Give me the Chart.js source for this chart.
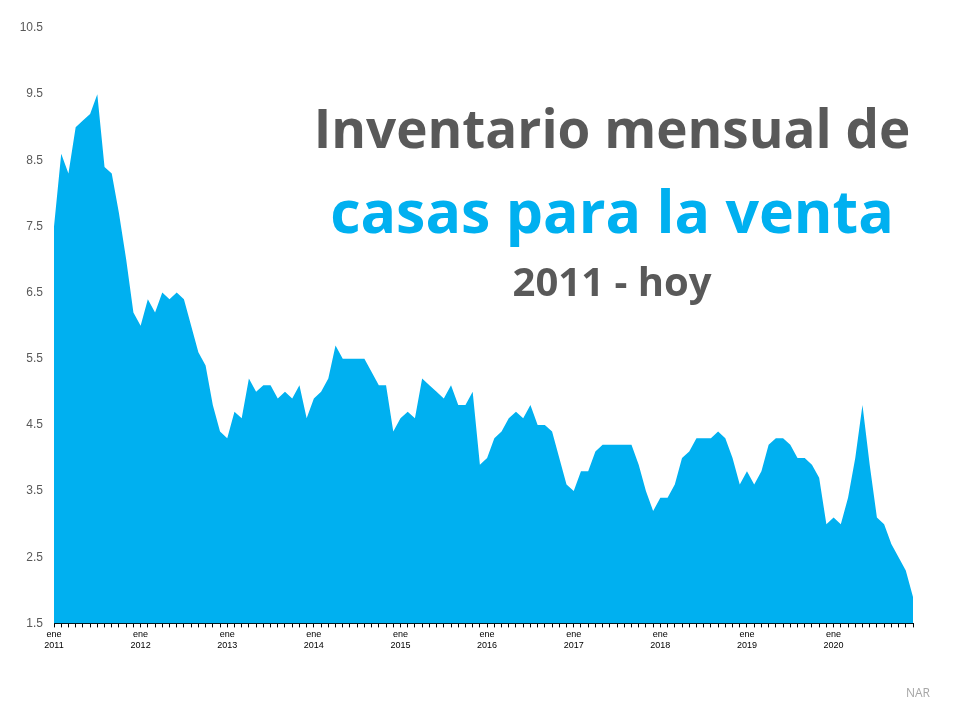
<!DOCTYPE html>
<html><head><meta charset="utf-8">
<script src="https://cdn.jsdelivr.net/npm/chart.js@4"></script>
<style>
body{margin:0;width:960px;height:720px;background:#fff;position:relative;overflow:hidden;font-family:"Open Sans","Noto Sans",sans-serif}
#wrap{position:absolute;left:0;top:0;width:960px;height:720px}
.t{position:absolute;left:312px;width:600px;text-align:center;font-weight:bold;white-space:nowrap}
</style></head><body>
<div id="wrap"><canvas id="c" width="960" height="720"></canvas></div>
<div class="t" style="top:91px;font-size:53px;color:#595959">Inventario mensual de</div>
<div class="t" style="top:170px;font-size:59px;color:#00B0F0">casas para la venta</div>
<div class="t" style="top:253px;font-size:40px;color:#595959">2011 - hoy</div>
<div style="position:absolute;left:906px;top:684px;font-size:12px;color:#a6a6a6;font-family:'Open Sans',sans-serif">NAR</div>
<script>
const years=[2011,2012,2013,2014,2015,2016,2017,2018,2019,2020];
const months=["ene","feb","mar","abr","may","jun","jul","ago","sep","oct","nov","dic"];
const yTicks=[1.5,2.5,3.5,4.5,5.5,6.5,7.5,8.5,9.5,10.5];
const v2011=[7.5,8.6,8.3,9.0,9.1,9.2,9.5,8.4,8.3,7.7,7.0,6.2];
const v2012=[6.0,6.4,6.2,6.5,6.4,6.5,6.4,6.0,5.6,5.4,4.8,4.4];
const v2013=[4.3,4.7,4.6,5.2,5.0,5.1,5.1,4.9,5.0,4.9,5.1,4.6];
const v2014=[4.9,5.0,5.2,5.7,5.5,5.5,5.5,5.5,5.3,5.1,5.1,4.4];
const v2015=[4.6,4.7,4.6,5.2,5.1,5.0,4.9,5.1,4.8,4.8,5.0,3.9];
const v2016=[4.0,4.3,4.4,4.6,4.7,4.6,4.8,4.5,4.5,4.4,4.0,3.6];
const v2017=[3.5,3.8,3.8,4.1,4.2,4.2,4.2,4.2,4.2,3.9,3.5,3.2];
const v2018=[3.4,3.4,3.6,4.0,4.1,4.3,4.3,4.3,4.4,4.3,4.0,3.6];
const v2019=[3.8,3.6,3.8,4.2,4.3,4.3,4.2,4.0,4.0,3.9,3.7,3.0];
const v2020=[3.1,3.0,3.4,4.0,4.8,3.9,3.1,3.0,2.7,2.5,2.3,1.9];
const values=[].concat(v2011,v2012,v2013,v2014,v2015,v2016,v2017,v2018,v2019,v2020);
const labels=[];years.forEach(y=>months.forEach(m=>labels.push(m+" "+y)));
new Chart(document.getElementById('c'),{
 type:'line',
 data:{labels,datasets:[{data:values,fill:'start',backgroundColor:'#00B0F0',borderWidth:0,pointRadius:0,tension:0}]},
 options:{responsive:false,animation:false,devicePixelRatio:1,
  layout:{padding:{left:6,right:47,top:28,bottom:67}},
  plugins:{legend:{display:false},tooltip:{enabled:false}},
  scales:{
   x:{offset:false,grid:{display:true,drawOnChartArea:false,drawTicks:true,tickLength:4,color:'#000'},border:{color:'#000',width:1},
      ticks:{autoSkip:false,maxRotation:0,minRotation:0,color:'#000',font:{size:9,family:'Arial, Liberation Sans'},padding:2,
        callback:(v,i)=>i%12===0?["ene",String(years[i/12])]:""}},
   y:{min:1.5,max:10.5,afterBuildTicks:a=>{a.ticks=yTicks.map(v=>({value:v}));},
      afterFit:a=>{a.width=48;},
      grid:{display:false},border:{display:false},
      ticks:{color:'#595959',font:{size:12,family:'Arial, Liberation Sans'},callback:v=>v.toFixed(1)}}
  }}
});
</script>
</body></html>
